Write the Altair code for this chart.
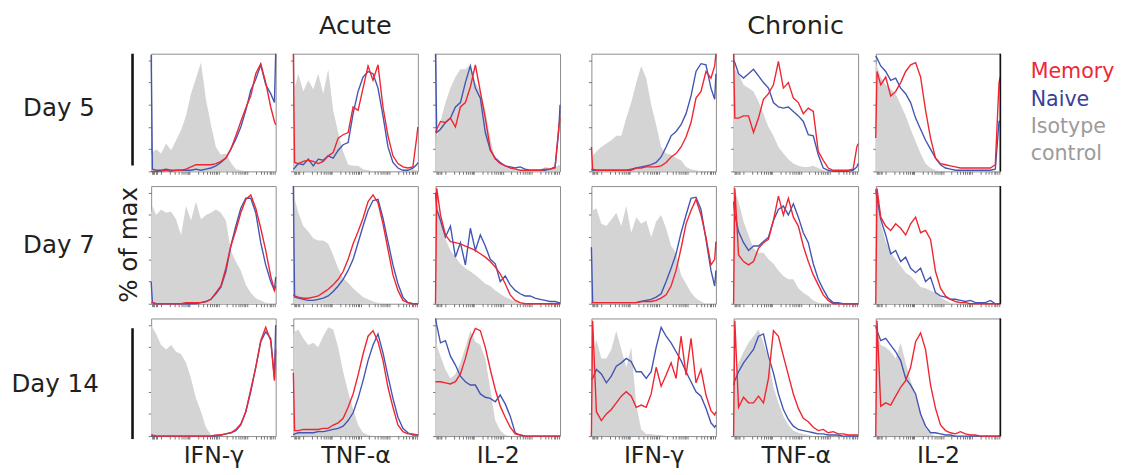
import math
import altair as alt
import pandas as pd

# ---------------- data (x = % of panel width, y = % of max) ----------------
XG = [0, 1, 4, 8, 12, 16, 20, 24, 28, 32, 36, 40, 44, 48, 52, 56, 60, 64, 68, 72, 76, 80, 84, 88, 92, 96, 99, 100]

# Acute, Day 5
A5_IFN_ISO = [15, 17, 20, 16, 25, 19, 28, 37, 50, 70, 84, 98, 65, 42, 22, 15, 16, 8, 2, 1, 0, 0, 0, 0, 0, 0, 0, 0]
A5_IFN_MEM = [0, 0, 0, 0, 1, 0, 1, 1, 2, 4, 6, 6, 6, 6, 7, 9, 12, 20, 32, 45, 57, 68, 88, 97, 80, 58, 45, 42]
A5_IFN_NAI = [105, 2, 1, 1, 2, 1, 1, 1, 1, 1, 2, 1, 2, 3, 5, 8, 12, 20, 29, 40, 55, 73, 83, 96, 78, 70, 62, 106]
A5_TNF_ISO = [40, 75, 88, 72, 82, 74, 88, 70, 92, 55, 35, 18, 6, 5, 5, 2, 1, 0, 0, 0, 0, 0, 0, 0, 0, 2, 1, 0]
A5_TNF_MEM = [106, 8, 7, 9, 10, 9, 7, 9, 14, 17, 30, 33, 35, 58, 55, 75, 95, 82, 96, 58, 32, 14, 7, 4, 3, 4, 30, 40]
A5_TNF_NAI = [2, 3, 7, 6, 11, 5, 11, 10, 14, 12, 19, 24, 26, 52, 72, 85, 90, 88, 75, 50, 22, 8, 3, 1, 1, 3, 6, 8]
A5_IL2_ISO = [20, 30, 45, 62, 75, 85, 92, 92, 96, 80, 72, 55, 30, 10, 6, 4, 2, 1, 1, 1, 1, 2, 2, 4, 3, 3, 6, 5]
A5_IL2_MEM = [35, 38, 45, 44, 48, 40, 58, 62, 76, 96, 72, 48, 20, 11, 7, 5, 3, 2, 1, 1, 1, 1, 1, 2, 2, 3, 40, 48]
A5_IL2_NAI = [106, 35, 38, 44, 48, 58, 62, 80, 95, 75, 66, 35, 19, 12, 8, 5, 4, 3, 4, 2, 1, 1, 1, 1, 2, 4, 37, 60]

# Chronic, Day 5
C5_IFN_ISO = [12, 14, 18, 22, 25, 28, 32, 32, 48, 62, 80, 95, 84, 60, 42, 22, 16, 15, 12, 10, 4, 2, 1, 0, 0, 0, 0, 0]
C5_IFN_MEM = [22, 2, 1, 1, 1, 1, 1, 1, 1, 1, 3, 3, 4, 4, 4, 5, 8, 13, 16, 22, 31, 44, 66, 72, 90, 84, 95, 106]
C5_IFN_NAI = [2, 1, 1, 1, 1, 1, 1, 1, 1, 2, 3, 4, 5, 6, 8, 13, 22, 32, 36, 42, 52, 68, 90, 97, 96, 75, 65, 88]
C5_TNF_ISO = [80, 92, 88, 78, 75, 72, 63, 52, 40, 32, 22, 16, 11, 7, 5, 4, 4, 5, 3, 1, 0, 0, 0, 0, 0, 0, 0, 0]
C5_TNF_MEM = [106, 48, 48, 50, 50, 35, 48, 65, 70, 78, 99, 75, 80, 66, 62, 52, 57, 54, 18, 10, 3, 1, 1, 1, 1, 2, 22, 25]
C5_TNF_NAI = [100, 98, 88, 84, 88, 92, 86, 80, 75, 62, 58, 57, 58, 54, 50, 45, 33, 32, 15, 3, 1, 0, 0, 0, 0, 1, 4, 7]
C5_IL2_ISO = [98, 95, 85, 78, 74, 70, 60, 50, 38, 27, 16, 7, 3, 1, 0, 0, 0, 0, 0, 0, 0, 0, 0, 0, 0, 0, 0, 0]
C5_IL2_MEM = [30, 90, 78, 85, 68, 72, 80, 90, 96, 98, 85, 55, 30, 12, 7, 6, 5, 4, 3, 3, 3, 3, 3, 3, 3, 6, 80, 85]
C5_IL2_NAI = [104, 102, 95, 90, 82, 84, 75, 70, 62, 48, 38, 28, 20, 12, 6, 3, 2, 1, 1, 1, 1, 1, 1, 1, 1, 2, 45, 45]

# Acute, Day 7
A7_IFN_ISO = [82, 88, 80, 85, 82, 83, 76, 62, 88, 75, 92, 76, 80, 82, 85, 82, 75, 48, 38, 30, 17, 10, 5, 3, 1, 0, 0, 0]
A7_IFN_MEM = [1, 1, 0, 0, 0, 0, 0, 0, 1, 1, 1, 1, 2, 4, 10, 16, 32, 52, 66, 82, 94, 98, 86, 68, 48, 25, 12, 16]
A7_IFN_NAI = [20, 1, 0, 0, 0, 0, 0, 0, 0, 0, 0, 1, 2, 4, 9, 15, 29, 52, 70, 86, 95, 95, 82, 55, 35, 20, 12, 24]
A7_TNF_ISO = [103, 95, 82, 70, 65, 59, 57, 57, 54, 44, 32, 23, 19, 14, 10, 6, 4, 2, 1, 0, 0, 0, 0, 0, 0, 0, 0, 0]
A7_TNF_MEM = [8, 7, 6, 5, 5, 6, 7, 10, 13, 17, 22, 29, 40, 54, 65, 77, 92, 98, 91, 72, 49, 26, 12, 3, 1, 0, 0, 0]
A7_TNF_NAI = [106, 6, 5, 4, 3, 3, 4, 5, 7, 11, 16, 22, 30, 40, 55, 70, 84, 93, 94, 77, 56, 35, 18, 6, 1, 0, 0, 0]
A7_IL2_ISO = [103, 90, 78, 58, 48, 42, 36, 32, 29, 26, 22, 18, 16, 12, 9, 6, 4, 2, 1, 0, 0, 0, 0, 0, 0, 0, 0, 0]
A7_IL2_MEM = [0, 104, 80, 62, 56, 55, 54, 52, 50, 48, 45, 42, 38, 33, 27, 18, 8, 3, 1, 0, 0, 0, 0, 0, 0, 0, 0, 0]
A7_IL2_NAI = [100, 85, 75, 60, 70, 42, 55, 35, 68, 48, 62, 52, 40, 36, 20, 25, 17, 12, 9, 7, 7, 5, 4, 3, 2, 2, 1, 1]

# Chronic, Day 7
C7_IFN_ISO = [80, 84, 86, 72, 70, 76, 82, 70, 88, 64, 78, 72, 75, 60, 74, 80, 68, 52, 46, 26, 18, 10, 5, 2, 0, 0, 0, 0]
C7_IFN_MEM = [1, 1, 1, 1, 1, 1, 1, 1, 1, 1, 1, 2, 2, 2, 3, 5, 8, 16, 30, 50, 72, 84, 94, 80, 60, 35, 40, 56]
C7_IFN_NAI = [51, 1, 1, 1, 1, 1, 1, 1, 1, 1, 1, 2, 3, 4, 6, 9, 20, 32, 45, 64, 80, 95, 96, 85, 58, 30, 16, 30]
C7_TNF_ISO = [103, 102, 92, 74, 62, 50, 46, 46, 40, 36, 30, 25, 22, 22, 14, 10, 7, 3, 1, 0, 0, 0, 0, 0, 0, 0, 0, 0]
C7_TNF_MEM = [0, 104, 44, 38, 35, 38, 50, 55, 58, 75, 97, 80, 95, 78, 70, 52, 38, 26, 17, 8, 3, 0, 0, 0, 0, 0, 0, 0]
C7_TNF_NAI = [92, 80, 65, 55, 48, 52, 52, 56, 60, 75, 85, 88, 80, 90, 78, 64, 55, 36, 22, 13, 5, 1, 1, 0, 0, 0, 0, 0]
C7_IL2_ISO = [103, 95, 72, 56, 46, 40, 34, 28, 25, 20, 15, 14, 12, 10, 6, 3, 1, 0, 0, 0, 0, 0, 0, 0, 0, 0, 0, 0]
C7_IL2_MEM = [0, 104, 78, 70, 66, 72, 68, 62, 72, 78, 64, 66, 58, 29, 14, 7, 4, 2, 1, 1, 0, 0, 0, 0, 0, 0, 0, 0]
C7_IL2_NAI = [103, 95, 76, 62, 45, 48, 38, 42, 32, 28, 32, 20, 24, 10, 7, 6, 4, 4, 3, 2, 3, 1, 1, 1, 3, 0, 0, 0]

# Acute, Day 14
A14_IFN_ISO = [100, 98, 92, 82, 78, 82, 76, 74, 66, 52, 34, 22, 8, 1, 0, 0, 0, 0, 0, 0, 0, 0, 0, 0, 0, 0, 0, 0]
A14_IFN_MEM = [1, 1, 0, 0, 0, 0, 0, 0, 0, 0, 0, 0, 0, 0, 1, 1, 2, 3, 6, 11, 22, 42, 62, 86, 98, 86, 50, 78]
A14_IFN_NAI = [0, 0, 0, 0, 0, 0, 0, 0, 0, 0, 0, 0, 0, 0, 0, 1, 2, 3, 5, 10, 22, 40, 62, 85, 94, 88, 52, 100]
A14_TNF_ISO = [92, 94, 96, 88, 82, 84, 80, 90, 98, 96, 80, 58, 40, 24, 10, 3, 1, 0, 0, 0, 0, 0, 0, 0, 0, 0, 0, 0]
A14_TNF_MEM = [57, 5, 5, 6, 6, 6, 6, 7, 7, 10, 12, 16, 26, 38, 55, 74, 90, 95, 85, 68, 44, 26, 10, 4, 2, 2, 1, 1]
A14_TNF_NAI = [1, 2, 3, 3, 3, 3, 4, 4, 5, 6, 7, 9, 14, 21, 34, 50, 68, 82, 92, 75, 54, 34, 17, 7, 3, 1, 1, 1]
A14_IL2_ISO = [85, 82, 72, 60, 52, 56, 66, 80, 95, 85, 82, 70, 42, 14, 5, 1, 0, 0, 0, 0, 0, 0, 0, 0, 0, 0, 0, 0]
A14_IL2_MEM = [49, 49, 49, 48, 47, 49, 56, 70, 87, 97, 95, 80, 60, 42, 27, 17, 8, 2, 1, 0, 0, 0, 0, 0, 0, 0, 0, 0]
A14_IL2_NAI = [106, 100, 84, 86, 72, 64, 54, 49, 46, 46, 38, 35, 34, 31, 37, 29, 18, 3, 1, 0, 0, 0, 0, 0, 0, 0, 0, 0]

# Chronic, Day 14
C14_IFN_ISO = [60, 72, 87, 70, 70, 78, 95, 78, 62, 80, 28, 6, 2, 2, 1, 1, 0, 0, 0, 0, 0, 0, 0, 0, 0, 0, 0, 0]
C14_IFN_MEM = [0, 104, 22, 14, 20, 24, 30, 36, 40, 36, 26, 28, 26, 38, 62, 45, 55, 66, 52, 90, 55, 88, 48, 60, 37, 23, 19, 22]
C14_IFN_NAI = [51, 52, 60, 56, 48, 54, 63, 66, 70, 67, 58, 58, 52, 58, 80, 98, 90, 84, 76, 68, 58, 49, 40, 36, 25, 12, 8, 10]
C14_TNF_ISO = [40, 55, 66, 76, 84, 90, 96, 84, 70, 44, 30, 18, 10, 5, 3, 2, 1, 0, 0, 0, 0, 0, 0, 0, 0, 0, 0, 0]
C14_TNF_MEM = [0, 104, 26, 35, 30, 30, 36, 30, 52, 95, 90, 72, 55, 38, 25, 16, 13, 8, 5, 6, 3, 4, 2, 2, 1, 1, 1, 1]
C14_TNF_NAI = [46, 50, 58, 66, 72, 78, 90, 92, 72, 57, 38, 24, 15, 9, 6, 5, 4, 3, 2, 2, 1, 1, 1, 0, 0, 0, 0, 0]
C14_IL2_ISO = [93, 92, 82, 80, 76, 70, 84, 66, 50, 37, 20, 7, 2, 0, 0, 0, 0, 0, 0, 0, 0, 0, 0, 0, 0, 0, 0, 0]
C14_IL2_MEM = [0, 104, 27, 30, 28, 36, 44, 50, 62, 85, 93, 78, 46, 25, 10, 5, 3, 2, 4, 2, 1, 1, 0, 0, 0, 0, 0, 0]
C14_IL2_NAI = [99, 95, 86, 88, 82, 76, 68, 52, 46, 38, 20, 9, 3, 3, 2, 1, 1, 0, 0, 0, 0, 0, 0, 0, 0, 0, 0, 0]

GROUPS = ["Acute", "Chronic"]
DAYS = ["Day 5", "Day 7", "Day 14"]
MARKERS = ["IFN-γ", "TNF-α", "IL-2"]
LEGEND = ["Memory", "Naive", "Isotype", "control"]

# ---------------- styling ----------------
FONT = "DejaVu Sans"
TXT = "#231f20"
RED = "#ef2530"
BLUE = "#4255b3"
GRAY = "#d4d4d4"
W, H = 127, 120
LW = 142  # width of the row-label column

XT = [0.6, 1.6, 2.6, 3.6, 5.0] + [
    round(d + 23 * math.log10(k), 2) for d in (8, 31, 54, 77) for k in range(1, 10)
]
YT = [0, 20, 40, 60, 80, 100]
ONE = pd.DataFrame({"k": [0]})


def panel(iso, mem, nai, xtitle=None, right_bar=False):
    n = len(XG)
    df = pd.DataFrame({
        "x": XG * 3,
        "y": iso + nai + mem,
        "s": ["iso"] * n + ["nai"] * n + ["mem"] * n,
    })
    xaxis = alt.Axis(values=XT, labels=False, domain=False, grid=False, ticks=True,
                     tickSize=3, tickColor="#555", tickWidth=0.8, title=xtitle,
                     titleFont=FONT, titleFontSize=24, titleFontWeight="normal",
                     titleColor=TXT, titlePadding=5)
    yaxis = alt.Axis(values=YT, labels=False, domain=False, grid=False, ticks=True,
                     tickSize=3, tickColor="#555", tickWidth=0.8, title=None)
    base = alt.Chart(df).encode(
        x=alt.X("x:Q", scale=alt.Scale(domain=[0, 100], nice=False, zero=False), axis=xaxis),
        y=alt.Y("y:Q", scale=alt.Scale(domain=[0, 106], nice=False, zero=False), axis=yaxis),
    )
    layers = [
        base.transform_filter(alt.datum.s == "iso").mark_area(color=GRAY, interpolate="linear"),
        base.transform_filter(alt.datum.s == "nai").mark_line(color=BLUE, strokeWidth=1.4),
        base.transform_filter(alt.datum.s == "mem").mark_line(color=RED, strokeWidth=1.4),
    ]
    if right_bar:
        layers.append(alt.Chart(ONE).mark_rule(color="#111", strokeWidth=1.6).encode(
            x=alt.value(W), y=alt.value(0), y2=alt.value(H)))
    return alt.layer(*layers).properties(width=W, height=H)


def title(text):
    return alt.TitleParams(text=text, font=FONT, fontSize=26, fontWeight="normal",
                           color=TXT, anchor="middle", offset=12)


def txt(text, x, y, size=25, color=TXT, angle=0, align="center", baseline="alphabetic"):
    return alt.Chart(ONE).mark_text(text=text, font=FONT, fontSize=size, color=color,
                                    angle=angle, align=align, baseline=baseline).encode(
        x=alt.value(x), y=alt.value(y))


def bar(y1, y2):
    return alt.Chart(ONE).mark_rule(color="#111", strokeWidth=2.6).encode(
        x=alt.value(127), y=alt.value(y1), y2=alt.value(y2))


NOFRAME = alt.ViewBackground(strokeOpacity=0)

label1 = alt.layer(txt(DAYS[0], 52, 64), bar(0, 114)).properties(
    width=LW, height=H, view=NOFRAME, title=title(" "))
label2 = alt.layer(txt(DAYS[1], 52, 68), txt("% of max", 124, 60, angle=270, baseline="middle")).properties(
    width=LW, height=H, view=NOFRAME)
label3 = alt.layer(txt(DAYS[2], 48, 75), bar(10, 123)).properties(
    width=LW, height=H, view=NOFRAME)

legend = alt.layer(
    txt(LEGEND[0], 27, 25, size=21, color="#ef2736", align="left"),
    txt(LEGEND[1], 27, 53, size=21, color="#3b3f97", align="left"),
    txt(LEGEND[2], 27, 81, size=21, color="#9b9b9b", align="left"),
    txt(LEGEND[3], 27, 108, size=21, color="#9b9b9b", align="left"),
).properties(width=105, height=H, view=NOFRAME, title=title(" "))

DATA = [
    [(A5_IFN_ISO, A5_IFN_MEM, A5_IFN_NAI), (A5_TNF_ISO, A5_TNF_MEM, A5_TNF_NAI), (A5_IL2_ISO, A5_IL2_MEM, A5_IL2_NAI),
     (C5_IFN_ISO, C5_IFN_MEM, C5_IFN_NAI), (C5_TNF_ISO, C5_TNF_MEM, C5_TNF_NAI), (C5_IL2_ISO, C5_IL2_MEM, C5_IL2_NAI)],
    [(A7_IFN_ISO, A7_IFN_MEM, A7_IFN_NAI), (A7_TNF_ISO, A7_TNF_MEM, A7_TNF_NAI), (A7_IL2_ISO, A7_IL2_MEM, A7_IL2_NAI),
     (C7_IFN_ISO, C7_IFN_MEM, C7_IFN_NAI), (C7_TNF_ISO, C7_TNF_MEM, C7_TNF_NAI), (C7_IL2_ISO, C7_IL2_MEM, C7_IL2_NAI)],
    [(A14_IFN_ISO, A14_IFN_MEM, A14_IFN_NAI), (A14_TNF_ISO, A14_TNF_MEM, A14_TNF_NAI), (A14_IL2_ISO, A14_IL2_MEM, A14_IL2_NAI),
     (C14_IFN_ISO, C14_IFN_MEM, C14_IFN_NAI), (C14_TNF_ISO, C14_TNF_MEM, C14_TNF_NAI), (C14_IL2_ISO, C14_IL2_MEM, C14_IL2_NAI)],
]

rows = []
labels = [label1, label2, label3]
for r in range(3):
    panels = []
    for c in range(6):
        iso, mem, nai = DATA[r][c]
        xt = MARKERS[c % 3] if r == 2 else None
        panels.append(panel(iso, mem, nai, xtitle=xt, right_bar=(c == 5)))
    acute = alt.hconcat(*panels[:3], spacing=10)
    chronic = alt.hconcat(*panels[3:], spacing=10)
    if r == 0:
        acute = acute.properties(title=title(GROUPS[0]))
        chronic = chronic.properties(title=title(GROUPS[1]))
    mid = alt.hconcat(acute, chronic, spacing=24)
    parts = [labels[r], mid] + ([legend] if r == 0 else [])
    rows.append(alt.hconcat(*parts, spacing=0))

chart = alt.vconcat(*rows, spacing=7).properties(padding=0).configure_view(
    stroke="#8c8c8c", strokeWidth=1)

chart.save("out.html", embed_options={"renderer": "svg", "actions": False})
